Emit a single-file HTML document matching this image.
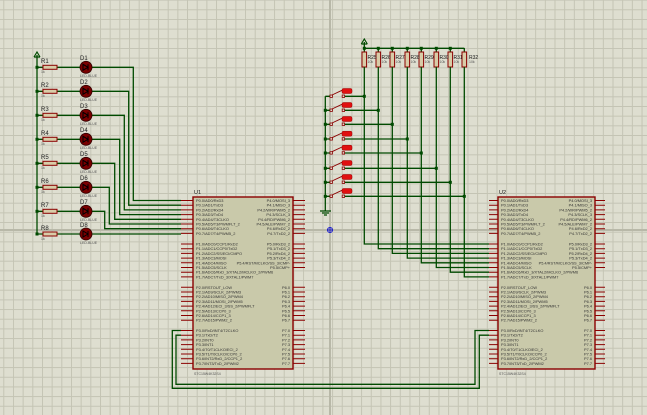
<!DOCTYPE html>
<html><head><meta charset="utf-8"><style>
html,body{margin:0;padding:0;background:#deded0;}
svg{display:block;font-family:"Liberation Sans",sans-serif;}
.w{stroke:#004a00;stroke-width:1.3;fill:none;}
.p{stroke:#8b0000;stroke-width:1;fill:none;}
.t{font-size:3.9px;fill:#333;}
.tr{font-size:3.9px;fill:#333;text-anchor:end;}
.lb{font-size:6px;fill:#222;}
.sm{font-size:3.5px;fill:#555;}
.res{fill:#d8cca8;stroke:#8b0000;stroke-width:1;}
.j{fill:#004a00;}
.chip{fill:#c9c9aa;stroke:#8b0000;stroke-width:1.4;}
</style></head><body>
<svg width="647" height="415" viewBox="0 0 647 415" xmlns="http://www.w3.org/2000/svg">
<defs>
<pattern id="g" x="3.3" y="9.3" width="9.67" height="9.67" patternUnits="userSpaceOnUse">
<path d="M0.5 0V9.67M0 0.5H9.67" stroke="#c4c4b4" stroke-width="1"/>
</pattern>
</defs>
<rect width="647" height="415" fill="#deded0"/>
<rect width="647" height="415" fill="url(#g)"/>
<path d="M330 0V415M0 230H647" stroke="#b8b8a8" stroke-width="2"/>

<!-- Left power bus -->
<path class="w" d="M37 55V235.3"/>
<path d="M34 57L37 52L40 57M34 57H40" stroke="#004a00" fill="none" stroke-width="1.2"/>
<g id="leftrows">
<path class="w" d="M37 67.3H43M57 67.3H80M92 67.3H133.3V200.5H181"/>
<path class="w" d="M37 91.3H43M57 91.3H80M92 91.3H128.7V205.2H181"/>
<path class="w" d="M37 115.3H43M57 115.3H80M92 115.3H124.3V209.9H181"/>
<path class="w" d="M37 139.3H43M57 139.3H80M92 139.3H119.7V214.6H181"/>
<path class="w" d="M37 163.3H43M57 163.3H80M92 163.3H114.7V219.3H181"/>
<path class="w" d="M37 187.3H43M57 187.3H80M92 187.3H109.3V224H181"/>
<path class="w" d="M37 211.3H43M57 211.3H80M92 211.3H104.7V228.7H181"/>
<path class="w" d="M37 234H43M57 234H80M92 234H181"/>
</g>
<g>
<rect class="res" x="43" y="65.3" width="14" height="4"/><rect class="res" x="43" y="89.3" width="14" height="4"/>
<rect class="res" x="43" y="113.3" width="14" height="4"/><rect class="res" x="43" y="137.3" width="14" height="4"/>
<rect class="res" x="43" y="161.3" width="14" height="4"/><rect class="res" x="43" y="185.3" width="14" height="4"/>
<rect class="res" x="43" y="209.3" width="14" height="4"/><rect class="res" x="43" y="232" width="14" height="4"/>
<rect class="j" x="35.5" y="65.8" width="3" height="3"/><rect class="j" x="35.5" y="89.8" width="3" height="3"/>
<rect class="j" x="35.5" y="113.8" width="3" height="3"/><rect class="j" x="35.5" y="137.8" width="3" height="3"/>
<rect class="j" x="35.5" y="161.8" width="3" height="3"/><rect class="j" x="35.5" y="185.8" width="3" height="3"/>
<rect class="j" x="35.5" y="209.8" width="3" height="3"/><rect class="j" x="35.5" y="232.5" width="3" height="3"/>
</g>
<g>
<text class="lb" x="41" y="63">R1</text><text class="sm" x="41" y="73">1k</text>
<text class="lb" x="41" y="87">R2</text><text class="sm" x="41" y="97">1k</text>
<text class="lb" x="41" y="111">R3</text><text class="sm" x="41" y="121">1k</text>
<text class="lb" x="41" y="135">R4</text><text class="sm" x="41" y="145">1k</text>
<text class="lb" x="41" y="159">R5</text><text class="sm" x="41" y="169">1k</text>
<text class="lb" x="41" y="183">R6</text><text class="sm" x="41" y="193">1k</text>
<text class="lb" x="41" y="207">R7</text><text class="sm" x="41" y="217">1k</text>
<text class="lb" x="41" y="230">R8</text><text class="sm" x="41" y="240">1k</text>
</g>
<g fill="#7a0000" stroke="#300000" stroke-width="0.8">
<circle cx="86" cy="67.3" r="6"/><circle cx="86" cy="91.3" r="6"/><circle cx="86" cy="115.3" r="6"/><circle cx="86" cy="139.3" r="6"/>
<circle cx="86" cy="163.3" r="6"/><circle cx="86" cy="187.3" r="6"/><circle cx="86" cy="211.3" r="6"/><circle cx="86" cy="234" r="6"/>
</g>
<g stroke="#000" stroke-width="1" fill="none">
<path d="M83 64.3V70.3L88 67.3ZM88 64.3V70.3"/><path d="M83 88.3V94.3L88 91.3ZM88 88.3V94.3"/>
<path d="M83 112.3V118.3L88 115.3ZM88 112.3V118.3"/><path d="M83 136.3V142.3L88 139.3ZM88 136.3V142.3"/>
<path d="M83 160.3V166.3L88 163.3ZM88 160.3V166.3"/><path d="M83 184.3V190.3L88 187.3ZM88 184.3V190.3"/>
<path d="M83 208.3V214.3L88 211.3ZM88 208.3V214.3"/><path d="M83 231V237L88 234ZM88 231V237"/>
</g>
<g>
<text class="lb" x="80" y="60">D1</text><text class="sm" x="80" y="77">LED-BLUE</text>
<text class="lb" x="80" y="84">D2</text><text class="sm" x="80" y="101">LED-BLUE</text>
<text class="lb" x="80" y="108">D3</text><text class="sm" x="80" y="125">LED-BLUE</text>
<text class="lb" x="80" y="132">D4</text><text class="sm" x="80" y="149">LED-BLUE</text>
<text class="lb" x="80" y="156">D5</text><text class="sm" x="80" y="173">LED-BLUE</text>
<text class="lb" x="80" y="180">D6</text><text class="sm" x="80" y="197">LED-BLUE</text>
<text class="lb" x="80" y="204">D7</text><text class="sm" x="80" y="221">LED-BLUE</text>
<text class="lb" x="80" y="227">D8</text><text class="sm" x="80" y="244">LED-BLUE</text>
</g>

<!-- Right top pull-ups -->
<path class="w" d="M364.3 42V48.3H464.3"/>
<path d="M361.3 44L364.3 39L367.3 44M361.3 44H367.3" stroke="#004a00" fill="none" stroke-width="1.2"/>
<path class="w" d="M364.3 48V52M378.3 48V52M392.3 48V52M407.3 48V52M421.3 48V52M436.3 48V52M450.3 48V52M464.3 48V52"/>
<g>
<rect class="res" x="362" y="52" width="4.6" height="15"/><rect class="res" x="376" y="52" width="4.6" height="15"/>
<rect class="res" x="390" y="52" width="4.6" height="15"/><rect class="res" x="405" y="52" width="4.6" height="15"/>
<rect class="res" x="419" y="52" width="4.6" height="15"/><rect class="res" x="434" y="52" width="4.6" height="15"/>
<rect class="res" x="448" y="52" width="4.6" height="15"/><rect class="res" x="462" y="52" width="4.6" height="15"/>
</g>
<g>
<text class="lb" x="367.5" y="59" style="font-size:5px">R25</text><text class="sm" x="367.5" y="63">10k</text>
<text class="lb" x="381.5" y="59" style="font-size:5px">R26</text><text class="sm" x="381.5" y="63">10k</text>
<text class="lb" x="395.5" y="59" style="font-size:5px">R27</text><text class="sm" x="395.5" y="63">10k</text>
<text class="lb" x="410.5" y="59" style="font-size:5px">R28</text><text class="sm" x="410.5" y="63">10k</text>
<text class="lb" x="424.5" y="59" style="font-size:5px">R29</text><text class="sm" x="424.5" y="63">10k</text>
<text class="lb" x="439.5" y="59" style="font-size:5px">R30</text><text class="sm" x="439.5" y="63">10k</text>
<text class="lb" x="453.5" y="59" style="font-size:5px">R31</text><text class="sm" x="453.5" y="63">10k</text>
<text class="lb" x="469" y="59" style="font-size:5px">R32</text><text class="sm" x="469" y="63">10k</text>
</g>
<path class="w" d="M364.3 67V244H489M378.3 67V248.7H489M392.3 67V253.4H489M407.3 67V258.1H489M421.3 67V262.8H489M436.3 67V267.5H489M450.3 67V272.2H489M464.3 67V276.9H489"/>
<g class="j">
<rect x="362.8" y="46.8" width="3" height="3"/><rect x="376.8" y="46.8" width="3" height="3"/><rect x="390.8" y="46.8" width="3" height="3"/><rect x="405.8" y="46.8" width="3" height="3"/>
<rect x="419.8" y="46.8" width="3" height="3"/><rect x="434.8" y="46.8" width="3" height="3"/><rect x="448.8" y="46.8" width="3" height="3"/>
<rect x="362.8" y="94.8" width="3" height="3"/><rect x="376.8" y="108.8" width="3" height="3"/><rect x="390.8" y="122.8" width="3" height="3"/><rect x="405.8" y="137.5" width="3" height="3"/>
<rect x="419.8" y="151.5" width="3" height="3"/><rect x="434.8" y="166.8" width="3" height="3"/><rect x="448.8" y="180.8" width="3" height="3"/><rect x="462.8" y="194.8" width="3" height="3"/>
<rect x="323.8" y="108.8" width="3" height="3"/><rect x="323.8" y="122.8" width="3" height="3"/><rect x="323.8" y="137.5" width="3" height="3"/><rect x="323.8" y="151.5" width="3" height="3"/>
<rect x="323.8" y="166.8" width="3" height="3"/><rect x="323.8" y="180.8" width="3" height="3"/><rect x="323.8" y="194.8" width="3" height="3"/>
</g>
<!-- switches -->
<path class="w" d="M325.3 96.3V211M320 211H331M322 213H329M324 215H327"/>
<path class="w" d="M325.3 96.3H330M344.5 96.3H364.3M325.3 110.3H330M344.5 110.3H378.3M325.3 124.3H330M344.5 124.3H392.3M325.3 139H330M344.5 139H407.3M325.3 153H330M344.5 153H421.3M325.3 168.3H330M344.5 168.3H436.3M325.3 182.3H330M344.5 182.3H450.3M325.3 196.3H330M344.5 196.3H464.3"/>
<g stroke="#8b0000" stroke-width="0.8" fill="#deded0">
<rect x="330" y="95" width="2.4" height="2.4"/><rect x="342.2" y="95" width="2.4" height="2.4"/>
<rect x="330" y="109" width="2.4" height="2.4"/><rect x="342.2" y="109" width="2.4" height="2.4"/>
<rect x="330" y="123" width="2.4" height="2.4"/><rect x="342.2" y="123" width="2.4" height="2.4"/>
<rect x="330" y="137.7" width="2.4" height="2.4"/><rect x="342.2" y="137.7" width="2.4" height="2.4"/>
<rect x="330" y="151.7" width="2.4" height="2.4"/><rect x="342.2" y="151.7" width="2.4" height="2.4"/>
<rect x="330" y="167" width="2.4" height="2.4"/><rect x="342.2" y="167" width="2.4" height="2.4"/>
<rect x="330" y="181" width="2.4" height="2.4"/><rect x="342.2" y="181" width="2.4" height="2.4"/>
<rect x="330" y="195" width="2.4" height="2.4"/><rect x="342.2" y="195" width="2.4" height="2.4"/>
</g>
<path stroke="#8b0000" stroke-width="0.9" d="M332 95L342 90.3M332 109L342 104.3M332 123L342 118.3M332 137.7L342 133M332 151.7L342 147M332 167L342 162.3M332 181L342 176.3M332 195L342 190.3"/>
<g fill="#e01010" stroke="#900" stroke-width="0.5">
<rect x="342" y="88.5" width="10" height="5" rx="1.5"/><rect x="342" y="102.5" width="10" height="5" rx="1.5"/>
<rect x="342" y="116.5" width="10" height="5" rx="1.5"/><rect x="342" y="131.2" width="10" height="5" rx="1.5"/>
<rect x="342" y="145.2" width="10" height="5" rx="1.5"/><rect x="342" y="160.5" width="10" height="5" rx="1.5"/>
<rect x="342" y="174.5" width="10" height="5" rx="1.5"/><rect x="342" y="188.5" width="10" height="5" rx="1.5"/>
</g>
<g stroke="#1a1acc" stroke-width="0.9" fill="none"><circle cx="330" cy="230" r="2.6"/><path d="M327 230H333M330 227V233"/></g>

<!-- bottom UART cross wires -->
<path class="w" d="M181 330.5H172.3V388.3H479.3V335.2H489"/>
<path class="w" d="M181 335.2H176V384.3H475V330.5H489"/>

<!-- U1 -->
<g>
<path class="p" d="M181 200.5H193M181 205.2H193M181 209.9H193M181 214.6H193M181 219.3H193M181 224H193M181 228.7H193M181 233.4H193M181 244H193M181 248.7H193M181 253.4H193M181 258.1H193M181 262.8H193M181 267.5H193M181 272.2H193M181 276.9H193M181 287.3H193M181 292H193M181 296.7H193M181 301.4H193M181 306.1H193M181 310.8H193M181 315.5H193M181 320.2H193M181 330.5H193M181 335.2H193M181 339.9H193M181 344.6H193M181 349.3H193M181 354H193M181 358.7H193M181 363.4H193"/>
<path class="p" d="M293 200.5H305M293 205.2H305M293 209.9H305M293 214.6H305M293 219.3H305M293 224H305M293 228.7H305M293 233.4H305M293 244H305M293 248.7H305M293 253.4H305M293 258.1H305M293 262.8H305M293 267.5H305M293 287.3H305M293 292H305M293 296.7H305M293 301.4H305M293 306.1H305M293 310.8H305M293 315.5H305M293 320.2H305M293 330.5H305M293 335.2H305M293 339.9H305M293 344.6H305M293 349.3H305M293 354H305M293 358.7H305M293 363.4H305"/>
<rect class="chip" x="193" y="197" width="100" height="172"/>
<text class="lb" x="194" y="194" style="font-size:5.5px">U1</text>
<text class="sm" x="194" y="375">STC15W4K32S4</text>
<g class="t">
<text x="196" y="202">P0.0/AD0/RxD3</text><text x="196" y="206.7">P0.1/AD1/TxD3</text><text x="196" y="211.4">P0.2/AD2/RxD4</text><text x="196" y="216.1">P0.3/AD3/TxD4</text>
<text x="196" y="220.8">P0.4/AD4/T3CLKO</text><text x="196" y="225.5">P0.5/AD5/T3/PWMFLT_2</text><text x="196" y="230.2">P0.6/AD6/T4CLKO</text><text x="196" y="234.9">P0.7/AD7/T4/PWM5_2</text>
<text x="196" y="245.5">P1.0/ADC0/CCP1/RxD2</text><text x="196" y="250.2">P1.1/ADC1/CCP0/TxD2</text><text x="196" y="254.9">P1.2/ADC2/SS/ECI/CMPO</text><text x="196" y="259.6">P1.3/ADC3/MOSI</text>
<text x="196" y="264.3">P1.4/ADC4/MISO</text><text x="196" y="269">P1.5/ADC5/SCLK</text><text x="196" y="273.7">P1.6/ADC6/RxD_3/XTAL2/MCLKO_2/PWM6</text><text x="196" y="278.4">P1.7/ADC7/TxD_3/XTAL1/PWM7</text>
<text x="196" y="288.8">P2.0/RSTOUT_LOW</text><text x="196" y="293.5">P2.1/AD9/SCLK_2/PWM3</text><text x="196" y="298.2">P2.2/AD10/MISO_2/PWM4</text><text x="196" y="302.9">P2.3/AD11/MOSI_2/PWM5</text>
<text x="196" y="307.6">P2.4/AD12/ECI_3/SS_2/PWMFLT</text><text x="196" y="312.3">P2.5/AD13/CCP0_3</text><text x="196" y="317">P2.6/AD14/CCP1_3</text><text x="196" y="321.7">P2.7/AD15/PWM2_2</text>
<text x="196" y="332">P3.0/RxD/INT4/T2CLKO</text><text x="196" y="336.7">P3.1/TxD/T2</text><text x="196" y="341.4">P3.2/INT0</text><text x="196" y="346.1">P3.3/INT1</text>
<text x="196" y="350.8">P3.4/T0/T1CLKO/ECI_2</text><text x="196" y="355.5">P3.5/T1/T0CLKO/CCP0_2</text><text x="196" y="360.2">P3.6/INT2/RxD_2/CCP1_2</text><text x="196" y="364.9">P3.7/INT3/TxD_2/PWM2</text>
</g>
<g class="tr">
<text x="290" y="202">P4.0/MOSI_3</text><text x="290" y="206.7">P4.1/MISO_3</text><text x="290" y="211.4">P4.2/WR/PWM5_2</text><text x="290" y="216.1">P4.3/SCLK_3</text>
<text x="290" y="220.8">P4.4/RD/PWM6_2</text><text x="290" y="225.5">P4.5/ALE/PWM7_2</text><text x="290" y="230.2">P4.6/RxD2_2</text><text x="290" y="234.9">P4.7/TxD2_2</text>
<text x="290" y="245.5">P5.0/RxD3_2</text><text x="290" y="250.2">P5.1/TxD3_2</text><text x="290" y="254.9">P5.2/RxD4_2</text><text x="290" y="259.6">P5.3/TxD4_2</text>
<text x="290" y="264.3">P5.4/RST/MCLKO/SS_3/CMP-</text><text x="290" y="269">P5.5/CMP+</text>
<text x="290" y="288.8">P6.0</text><text x="290" y="293.5">P6.1</text><text x="290" y="298.2">P6.2</text><text x="290" y="302.9">P6.3</text>
<text x="290" y="307.6">P6.4</text><text x="290" y="312.3">P6.5</text><text x="290" y="317">P6.6</text><text x="290" y="321.7">P6.7</text>
<text x="290" y="332">P7.0</text><text x="290" y="336.7">P7.1</text><text x="290" y="341.4">P7.2</text><text x="290" y="346.1">P7.3</text>
<text x="290" y="350.8">P7.4</text><text x="290" y="355.5">P7.5</text><text x="290" y="360.2">P7.6</text><text x="290" y="364.9">P7.7</text>
</g>
</g>

<!-- U2 -->
<g transform="translate(305,0)">
<path class="p" d="M184 200.5H193M184 205.2H193M184 209.9H193M184 214.6H193M184 219.3H193M184 224H193M184 228.7H193M184 233.4H193M184 244H193M184 248.7H193M184 253.4H193M184 258.1H193M184 262.8H193M184 267.5H193M184 272.2H193M184 276.9H193M184 287.3H193M184 292H193M184 296.7H193M184 301.4H193M184 306.1H193M184 310.8H193M184 315.5H193M184 320.2H193M184 330.5H193M184 335.2H193M184 339.9H193M184 344.6H193M184 349.3H193M184 354H193M184 358.7H193M184 363.4H193"/>
<path class="p" d="M290 200.5H300M290 205.2H300M290 209.9H300M290 214.6H300M290 219.3H300M290 224H300M290 228.7H300M290 233.4H300M290 244H300M290 248.7H300M290 253.4H300M290 258.1H300M290 262.8H300M290 267.5H300M290 287.3H300M290 292H300M290 296.7H300M290 301.4H300M290 306.1H300M290 310.8H300M290 315.5H300M290 320.2H300M290 330.5H300M290 335.2H300M290 339.9H300M290 344.6H300M290 349.3H300M290 354H300M290 358.7H300M290 363.4H300"/>
<rect class="chip" x="193" y="197" width="97" height="172"/>
<text class="lb" x="194" y="194" style="font-size:5.5px">U2</text>
<text class="sm" x="194" y="375">STC15W4K32S4</text>
<g class="t">
<text x="196" y="202">P0.0/AD0/RxD3</text><text x="196" y="206.7">P0.1/AD1/TxD3</text><text x="196" y="211.4">P0.2/AD2/RxD4</text><text x="196" y="216.1">P0.3/AD3/TxD4</text>
<text x="196" y="220.8">P0.4/AD4/T3CLKO</text><text x="196" y="225.5">P0.5/AD5/T3/PWMFLT_2</text><text x="196" y="230.2">P0.6/AD6/T4CLKO</text><text x="196" y="234.9">P0.7/AD7/T4/PWM5_2</text>
<text x="196" y="245.5">P1.0/ADC0/CCP1/RxD2</text><text x="196" y="250.2">P1.1/ADC1/CCP0/TxD2</text><text x="196" y="254.9">P1.2/ADC2/SS/ECI/CMPO</text><text x="196" y="259.6">P1.3/ADC3/MOSI</text>
<text x="196" y="264.3">P1.4/ADC4/MISO</text><text x="196" y="269">P1.5/ADC5/SCLK</text><text x="196" y="273.7">P1.6/ADC6/RxD_3/XTAL2/MCLKO_2/PWM6</text><text x="196" y="278.4">P1.7/ADC7/TxD_3/XTAL1/PWM7</text>
<text x="196" y="288.8">P2.0/RSTOUT_LOW</text><text x="196" y="293.5">P2.1/AD9/SCLK_2/PWM3</text><text x="196" y="298.2">P2.2/AD10/MISO_2/PWM4</text><text x="196" y="302.9">P2.3/AD11/MOSI_2/PWM5</text>
<text x="196" y="307.6">P2.4/AD12/ECI_3/SS_2/PWMFLT</text><text x="196" y="312.3">P2.5/AD13/CCP0_3</text><text x="196" y="317">P2.6/AD14/CCP1_3</text><text x="196" y="321.7">P2.7/AD15/PWM2_2</text>
<text x="196" y="332">P3.0/RxD/INT4/T2CLKO</text><text x="196" y="336.7">P3.1/TxD/T2</text><text x="196" y="341.4">P3.2/INT0</text><text x="196" y="346.1">P3.3/INT1</text>
<text x="196" y="350.8">P3.4/T0/T1CLKO/ECI_2</text><text x="196" y="355.5">P3.5/T1/T0CLKO/CCP0_2</text><text x="196" y="360.2">P3.6/INT2/RxD_2/CCP1_2</text><text x="196" y="364.9">P3.7/INT3/TxD_2/PWM2</text>
</g>
<g class="tr">
<text x="287" y="202">P4.0/MOSI_3</text><text x="287" y="206.7">P4.1/MISO_3</text><text x="287" y="211.4">P4.2/WR/PWM5_2</text><text x="287" y="216.1">P4.3/SCLK_3</text>
<text x="287" y="220.8">P4.4/RD/PWM6_2</text><text x="287" y="225.5">P4.5/ALE/PWM7_2</text><text x="287" y="230.2">P4.6/RxD2_2</text><text x="287" y="234.9">P4.7/TxD2_2</text>
<text x="287" y="245.5">P5.0/RxD3_2</text><text x="287" y="250.2">P5.1/TxD3_2</text><text x="287" y="254.9">P5.2/RxD4_2</text><text x="287" y="259.6">P5.3/TxD4_2</text>
<text x="287" y="264.3">P5.4/RST/MCLKO/SS_3/CMP-</text><text x="287" y="269">P5.5/CMP+</text>
<text x="287" y="288.8">P6.0</text><text x="287" y="293.5">P6.1</text><text x="287" y="298.2">P6.2</text><text x="287" y="302.9">P6.3</text>
<text x="287" y="307.6">P6.4</text><text x="287" y="312.3">P6.5</text><text x="287" y="317">P6.6</text><text x="287" y="321.7">P6.7</text>
<text x="287" y="332">P7.0</text><text x="287" y="336.7">P7.1</text><text x="287" y="341.4">P7.2</text><text x="287" y="346.1">P7.3</text>
<text x="287" y="350.8">P7.4</text><text x="287" y="355.5">P7.5</text><text x="287" y="360.2">P7.6</text><text x="287" y="364.9">P7.7</text>
</g>
</g>
</svg>
</body></html>
